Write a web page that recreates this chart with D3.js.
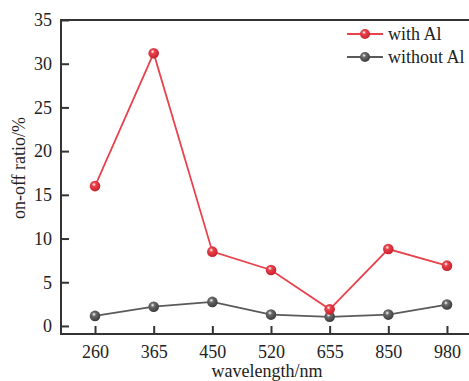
<!DOCTYPE html>
<html>
<head>
<meta charset="UTF-8">
<script src="https://d3js.org/d3.v7.min.js"></script>
<style>
  body { margin: 0; background: #fff; }
  text { font-family: "Liberation Serif", "Times New Roman", serif; fill: #222; }
</style>
</head>
<body>
<svg id="chart" width="469" height="381"></svg>
<script>
var wavelengths = ["260", "365", "450", "520", "655", "850", "980"];
var withAl = [16.0, 31.2, 8.5, 6.4, 1.9, 8.8, 6.9];
var withoutAl = [1.15, 2.2, 2.75, 1.3, 1.05, 1.3, 2.45];
var yTicks = [0, 5, 10, 15, 20, 25, 30, 35];

var svg = d3.select("#chart");
var plotL = 61, plotT = 20, plotB = 334, plotR = 481;

var x = d3.scaleLinear().domain([-0.58, 6.58]).range([plotL, plotR]);
var y = d3.scaleLinear().domain([-0.92, 35]).range([plotB, plotT]);

// gradients for the ball markers
var defs = svg.append("defs");
function ball(id, base, dark) {
  var g = defs.append("radialGradient").attr("id", id)
    .attr("cx", "40%").attr("cy", "35%").attr("r", "65%");
  g.append("stop").attr("offset", "0%").attr("stop-color", "#fff");
  g.append("stop").attr("offset", "30%").attr("stop-color", base);
  g.append("stop").attr("offset", "100%").attr("stop-color", dark);
}
ball("gRed", "#e8424c", "#c8202c");
ball("gGray", "#6a6a6a", "#3c3c3c");

// axes
var yAxis = d3.axisLeft(y).tickValues(yTicks).tickSize(-8).tickPadding(9);
var gy = svg.append("g").attr("transform", "translate(" + plotL + ",0)").call(yAxis);
var xAxis = d3.axisBottom(x).tickValues(d3.range(wavelengths.length))
  .tickFormat(function (i) { return wavelengths[i]; }).tickSize(-8).tickPadding(11);
var gx = svg.append("g").attr("transform", "translate(0," + plotB + ")").call(xAxis);

[gx, gy].forEach(function (g) {
  g.select(".domain").remove();
  g.selectAll(".tick line").attr("stroke", "#333").attr("stroke-width", 2);
  g.selectAll(".tick text").style("font-size", "18px").attr("fill", "#222")
    .style("font-family", "'Liberation Serif', serif");
});

// frame
svg.append("rect").attr("x", plotL).attr("y", plotT)
  .attr("width", plotR - plotL).attr("height", plotB - plotT)
  .attr("fill", "none").attr("stroke", "#333").attr("stroke-width", 2);

// axis titles
svg.append("text").attr("x", 267).attr("y", 377).attr("text-anchor", "middle")
  .style("font-size", "18px").text("wavelength/nm");
svg.append("text").attr("transform", "translate(25,168) rotate(-90)")
  .attr("text-anchor", "middle").style("font-size", "18px").text("on-off ratio/%");

var line = d3.line().x(function (d, i) { return x(i); }).y(function (d) { return y(d); });

var series = [
  { name: "with Al", values: withAl, color: "#e8424c", grad: "gRed" },
  { name: "without Al", values: withoutAl, color: "#5a5a5a", grad: "gGray" }
];

// draw gray first so red sits on top
series.slice().reverse().forEach(function (s) {
  svg.append("path").datum(s.values).attr("d", line)
    .attr("fill", "none").attr("stroke", s.color).attr("stroke-width", 1.8);
  svg.selectAll(null).data(s.values).enter().append("circle")
    .attr("cx", function (d, i) { return x(i); })
    .attr("cy", function (d) { return y(d); })
    .attr("r", 5.3).attr("fill", "url(#" + s.grad + ")");
});

// legend
series.forEach(function (s, k) {
  var ly = 34 + k * 23;
  svg.append("line").attr("x1", 347).attr("x2", 383).attr("y1", ly).attr("y2", ly)
    .attr("stroke", s.color).attr("stroke-width", 1.8);
  svg.append("circle").attr("cx", 365).attr("cy", ly).attr("r", 5)
    .attr("fill", "url(#" + s.grad + ")");
  svg.append("text").attr("x", 388).attr("y", ly + 6).style("font-size", "18px").text(s.name);
});
</script>
</body>
</html>
